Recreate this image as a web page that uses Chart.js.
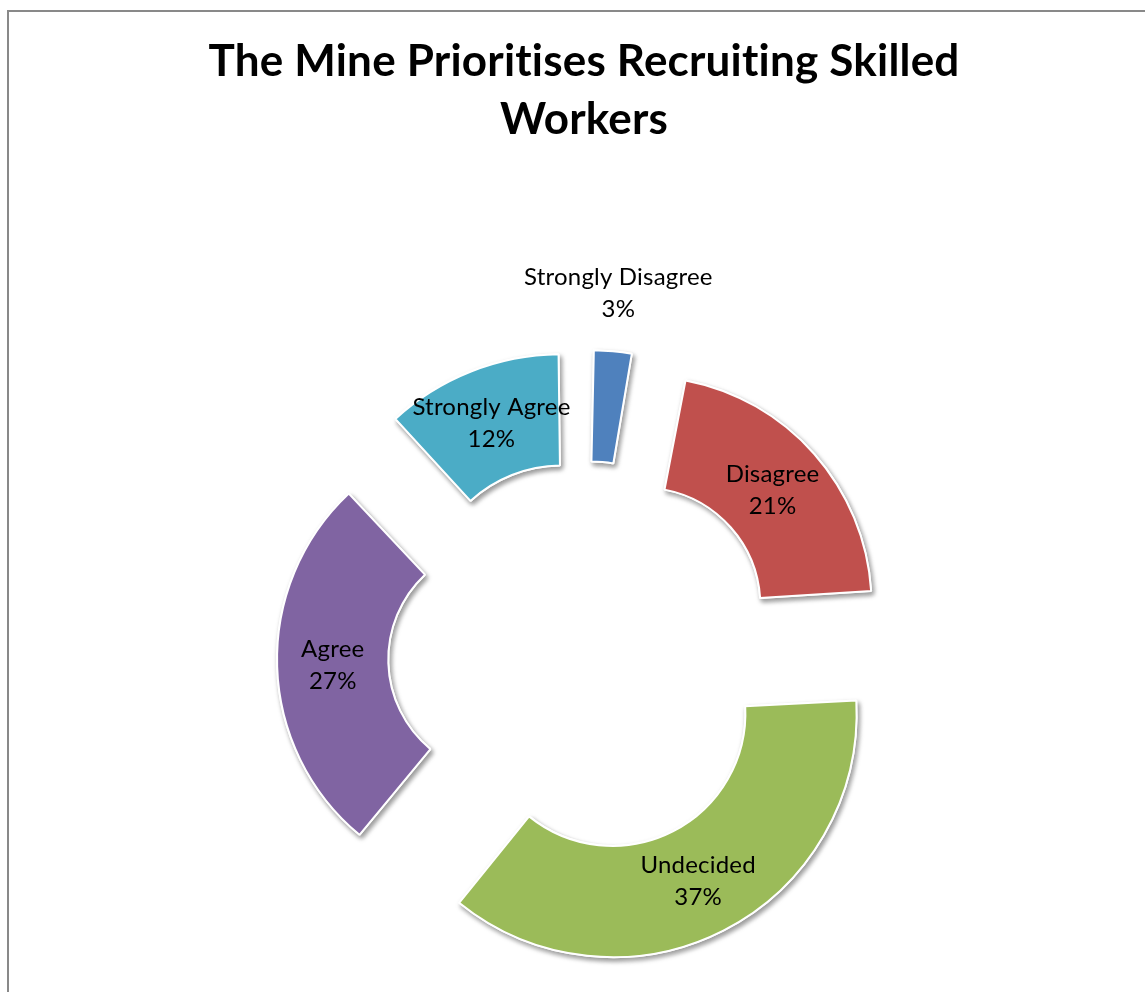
<!DOCTYPE html>
<html>
<head>
<meta charset="utf-8">
<script src="https://cdn.jsdelivr.net/npm/chart.js@4.4.0/dist/chart.umd.min.js"></script>
<style>
  html, body { margin: 0; padding: 0; background: #fff; }
  #wrap { width: 1145px; height: 992px; position: relative; }
</style>
</head>
<body>
<div id="wrap"><canvas id="chart"></canvas></div>
<script>
const categories = ['Strongly Disagree', 'Disagree', 'Undecided', 'Agree', 'Strongly Agree'];
const shares = [3, 21, 37, 27, 12];
const sliceColors = ['#4F81BD', '#C0504D', '#9BBB59', '#8064A2', '#4BACC6'];
const titleLines = ['The Mine Prioritises Recruiting Skilled', 'Workers'];

const EXPLODE = 80; // how far every slice is pulled away from the centre
const FONT = 'Lato, "Open Sans", sans-serif';
const total = shares.reduce((a, b) => a + b, 0);

// Chart.js shifts an arc by offset/4 * (2 - sin(min(PI, angle))),
// so scale the offset per slice to pull them all out by the same distance
function sliceOffset(ctx) {
    const angle = ctx.raw / total * Math.PI * 2;
    const fix = 1 - Math.sin(Math.min(Math.PI, angle));
    return 4 * EXPLODE / (1 + fix);
}

// grey frame round the chart; a hair of letter spacing keeps Lato from
// joining "ti" into a ligature
const frame = {
    id: 'frame',
    beforeDraw(chart) {
        const ctx = chart.ctx;
        ctx.save();
        ctx.strokeStyle = '#898989';
        ctx.lineWidth = 2;
        ctx.strokeRect(8, 11, chart.width, chart.height);
        ctx.restore();
        ctx.letterSpacing = '0.2px';
    }
};

// soft drop shadow under the slices
const sliceShadow = {
    id: 'sliceShadow',
    beforeDatasetsDraw(chart) {
        const ctx = chart.ctx;
        ctx.save();
        ctx.shadowColor = 'rgba(0, 0, 0, 0.4)';
        ctx.shadowBlur = 5;
        ctx.shadowOffsetX = 2;
        ctx.shadowOffsetY = 3;
        chart.getDatasetMeta(0).data.forEach(arc => arc.draw(ctx));
        ctx.restore();
    }
};

// category name + percentage on each slice, thin slices get it outside
const sliceLabels = {
    id: 'sliceLabels',
    afterDatasetsDraw(chart) {
        const ctx = chart.ctx;
        ctx.save();
        ctx.font = '24px ' + FONT;
        ctx.fillStyle = '#000';
        ctx.textAlign = 'center';
        ctx.textBaseline = 'middle';
        chart.getDatasetMeta(0).data.forEach((arc, i) => {
            const { x, y, startAngle, endAngle, innerRadius, outerRadius } =
                arc.getProps(['x', 'y', 'startAngle', 'endAngle', 'innerRadius', 'outerRadius'], true);
            const mid = (startAngle + endAngle) / 2;
            const narrow = shares[i] / total < 0.05;
            const r = EXPLODE + (narrow ? outerRadius + 58 : (innerRadius + outerRadius) / 2);
            const lx = x + Math.cos(mid) * r;
            const ly = y + Math.sin(mid) * r;
            ctx.fillText(categories[i], lx, ly - 16);
            ctx.fillText(Math.round(shares[i] / total * 100) + '%', lx, ly + 16);
        });
        ctx.restore();
    }
};

new Chart(document.getElementById('chart'), {
    type: 'doughnut',
    data: {
        labels: categories,
        datasets: [{
            data: shares,
            backgroundColor: sliceColors,
            borderColor: '#fff',
            borderWidth: 2,
            offset: sliceOffset
        }]
    },
    options: {
        responsive: true,
        maintainAspectRatio: false,
        animation: false,
        events: [],
        radius: 227,
        cutout: '51%',
        layout: { padding: { left: 23, right: 0, top: 0, bottom: 0 } },
        plugins: {
            legend: { display: false },
            tooltip: { enabled: false },
            title: {
                display: true,
                text: titleLines,
                color: '#000',
                font: { family: FONT, size: 44, weight: 'bold', lineHeight: 1.318 },
                padding: { top: 33, bottom: 173 }
            }
        }
    },
    plugins: [frame, sliceShadow, sliceLabels]
});
</script>
</body>
</html>
